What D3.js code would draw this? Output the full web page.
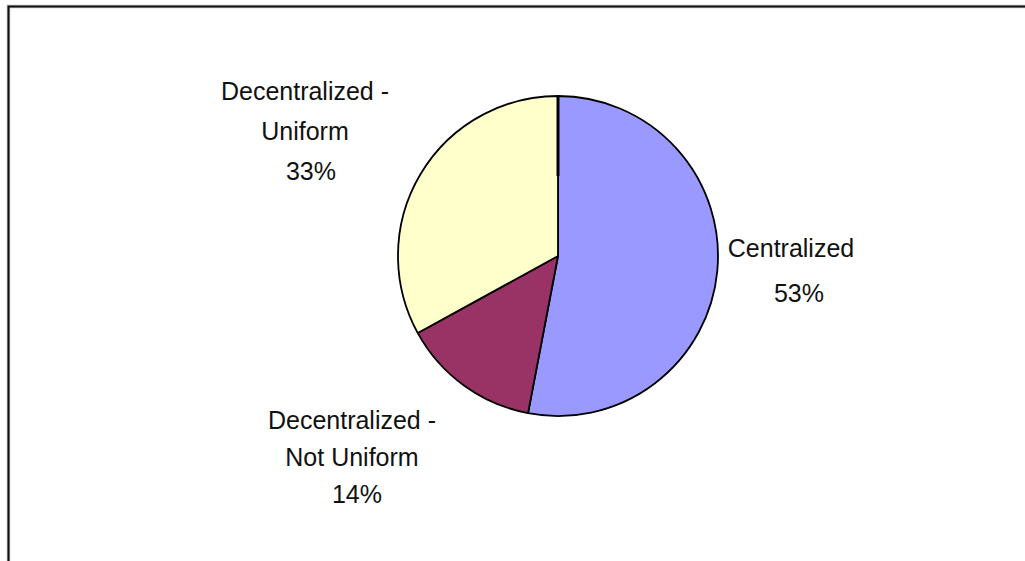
<!DOCTYPE html>
<html>
<head>
<meta charset="utf-8">
<script src="https://cdn.jsdelivr.net/npm/d3@7"></script>
<style>
html, body { margin: 0; padding: 0; background: #fff; }
svg { display: block; }
text { font-family: "Liberation Sans", Arial, sans-serif; font-size: 25px; fill: #111; }
</style>
</head>
<body>
<script>
// Data
const categories = ["Centralized", "Decentralized - Not Uniform", "Decentralized - Uniform"];
const values = [53, 14, 33];
const labelLines = [
  ["Centralized", "53%"],
  ["Decentralized -", "Not Uniform", "14%"],
  ["Decentralized -", "Uniform", "33%"]
];
const colors = ["#9999FF", "#993366", "#FFFFCC"];

// Layout (not data)
const W = 1025, H = 561;
const cx = 558, cy = 256, R = 160;
const labelPos = [
  { x: 791, y: 257, dy: 45, lastDx: 8 },
  { x: 352, y: 429, dy: 37, lastDx: 5 },
  { x: 305, y: 100, dy: 40, lastDx: 6 }
];

const svg = d3.select("body").append("svg").attr("width", W).attr("height", H);

// Frame
svg.append("rect")
  .attr("x", 8.5).attr("y", 6.5)
  .attr("width", W + 20).attr("height", H + 20)
  .attr("fill", "none").attr("stroke", "#bbb").attr("stroke-width", 3.5);
svg.append("rect")
  .attr("x", 8.5).attr("y", 6.5)
  .attr("width", W + 20).attr("height", H + 20)
  .attr("fill", "none").attr("stroke", "#111").attr("stroke-width", 2);

const pie = d3.pie().sort(null).value(d => d)(values);
const arc = d3.arc().innerRadius(0).outerRadius(R);

const g = svg.append("g").attr("transform", `translate(${cx},${cy})`);
g.selectAll("path.slice").data(pie).join("path")
  .attr("class", "slice")
  .attr("d", arc)
  .attr("fill", (d, i) => colors[i])
  .attr("stroke", "#000")
  .attr("stroke-width", 1.8)
  .attr("stroke-linejoin", "round");

// Thicker segment on the starting spoke (as in the reference)
const a0 = pie[0].startAngle;
g.append("line")
  .attr("x1", R * Math.sin(a0)).attr("y1", -R * Math.cos(a0))
  .attr("x2", R * 0.5 * Math.sin(a0)).attr("y2", -R * 0.5 * Math.cos(a0))
  .attr("stroke", "#000").attr("stroke-width", 3);

// Labels
labelLines.forEach((lines, i) => {
  const p = labelPos[i];
  const t = svg.append("text").attr("text-anchor", "middle");
  lines.forEach((ln, j) => {
    t.append("tspan")
      .attr("x", p.x + (j === lines.length - 1 ? p.lastDx : 0))
      .attr("y", p.y + j * p.dy)
      .text(ln);
  });
});
</script>
</body>
</html>
